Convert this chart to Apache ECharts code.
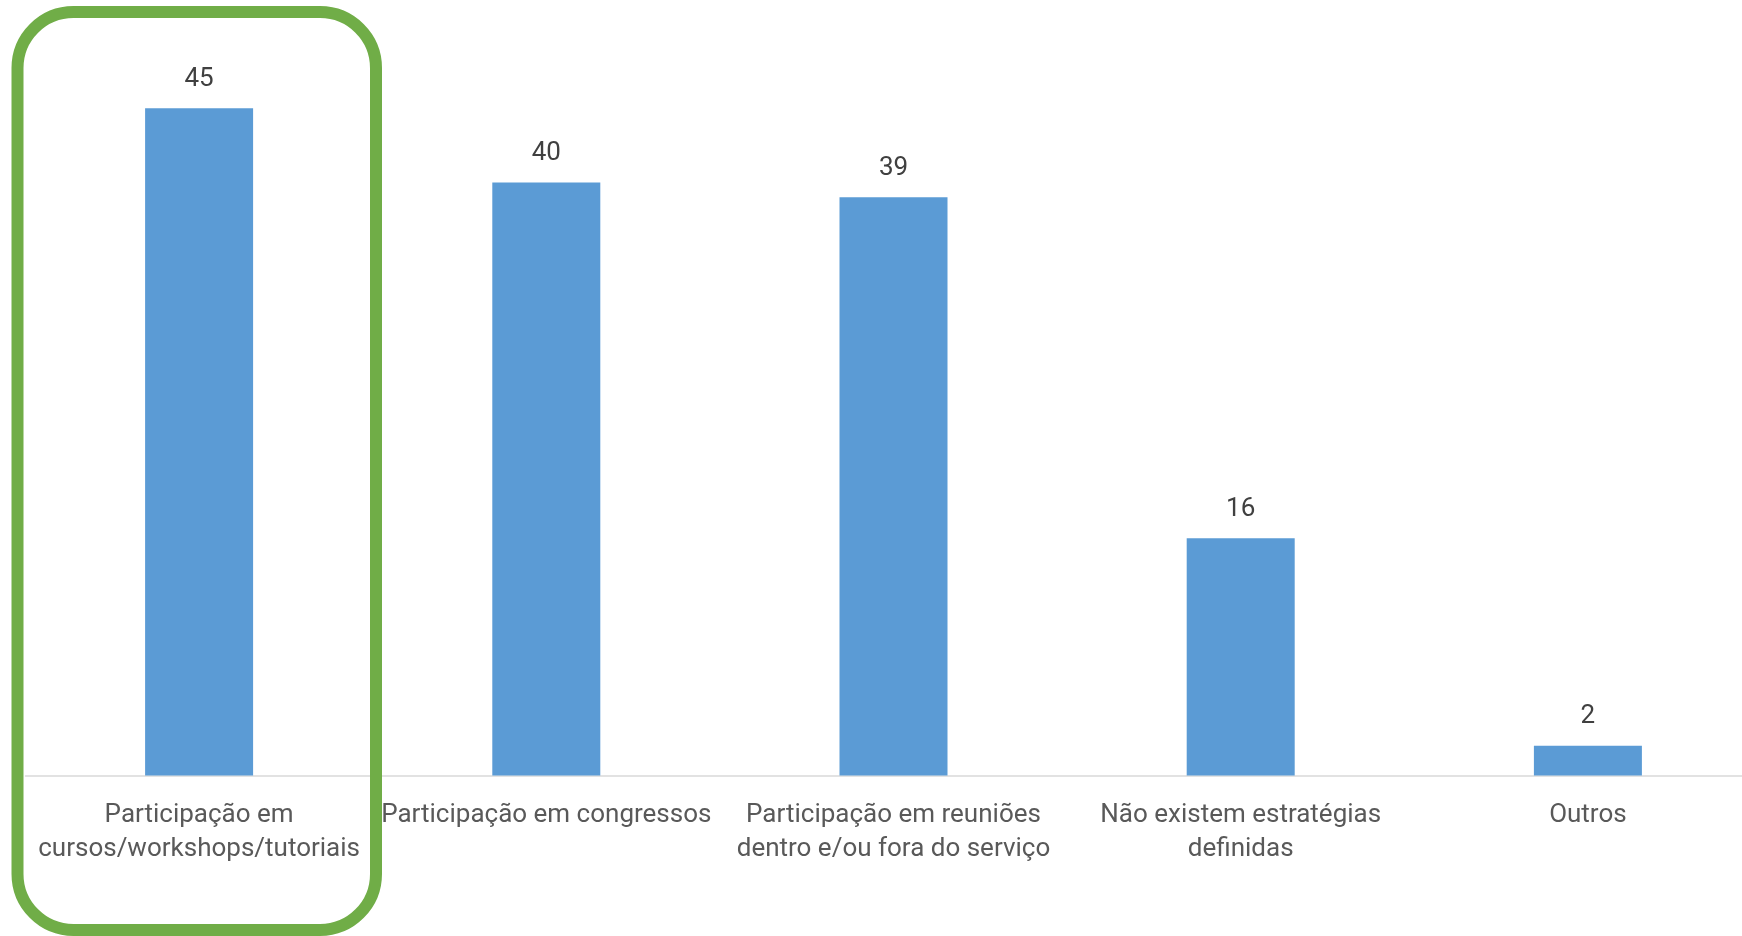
<!DOCTYPE html>
<html>
<head>
<meta charset="utf-8">
<script src="https://cdn.jsdelivr.net/npm/echarts@6/dist/echarts.min.js"></script>
<style>
html,body{margin:0;padding:0;background:#fff;}
#chart{width:1742px;height:936px;}
</style>
</head>
<body>
<div id="chart"></div>
<script>
const categories = [
  "Participação em\ncursos/workshops/tutoriais",
  "Participação em congressos",
  "Participação em reuniões\ndentro e/ou fora do serviço",
  "Não existem estratégias\ndefinidas",
  "Outros"
];
const values = [45, 40, 39, 16, 2];

const FONT = "Roboto, 'Liberation Sans', sans-serif";
const chart = echarts.init(document.getElementById('chart'));
chart.setOption({
  animation: false,
  backgroundColor: '#ffffff',
  grid: { left: 25.5, width: 1736, top: 34.2, bottom: 160.5, containLabel: false, outerBoundsMode: 'none' },
  xAxis: {
    type: 'category',
    data: categories,
    axisLine: { show: true, lineStyle: { color: '#D9D9D9', width: 1.5 } },
    axisTick: { show: false },
    axisLabel: {
      interval: 0,
      margin: 23,
      color: '#595959',
      fontFamily: FONT,
      fontSize: 26,
      lineHeight: 34,
      align: 'center'
    }
  },
  yAxis: {
    type: 'value',
    min: 0,
    max: 50,
    show: false,
    splitLine: { show: false }
  },
  series: [{
    type: 'bar',
    data: values,
    barWidth: 108,
    itemStyle: { color: '#5B9BD5' },
    label: {
      show: true,
      position: 'top',
      distance: 16,
      color: '#404040',
      fontFamily: FONT,
      fontSize: 26
    }
  }],
  graphic: [{
    type: 'rect',
    shape: { x: 17.5, y: 12, width: 358.5, height: 918, r: 56 },
    style: { fill: 'none', stroke: '#70AD47', lineWidth: 12 },
    z: 10
  }]
});
</script>
</body>
</html>
